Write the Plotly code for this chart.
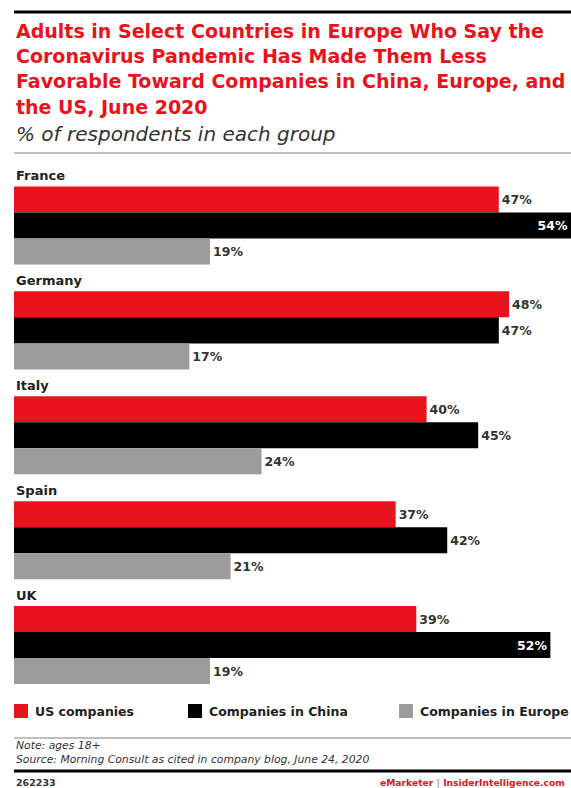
import plotly.graph_objects as go

countries = ["France", "Germany", "Italy", "Spain", "UK"]
series_names = ["US companies", "Companies in China", "Companies in Europe"]
us_companies = [47, 48, 40, 37, 39]
china_companies = [54, 47, 45, 42, 52]
europe_companies = [19, 17, 24, 21, 19]
series_values = [us_companies, china_companies, europe_companies]
colors = ["#e8131d", "#000000", "#9c9c9c"]

W, H = 571, 788
ML, MR, MT, MB = 14, 0, 170, 88
PW, PH = W - ML - MR, H - MT - MB
FONT = "DejaVu Sans"

def px(xp):
    return (xp - ML) / PW

def py(yp):
    return (H - MB - yp) / PH

fig = go.Figure()
pos = list(range(len(countries)))
xmax = 54

for name, vals, col in zip(series_names, series_values, colors):
    tp = ["inside" if v >= 50 else "outside" for v in vals]
    tc = ["#ffffff" if v >= 50 else "#333333" for v in vals]
    fig.add_trace(go.Bar(
        y=pos, x=vals, name=name, orientation="h",
        marker=dict(color=col, line=dict(width=0)),
        text=[f"{v}%" for v in vals], textposition=tp,
        insidetextanchor="end",
        textfont=dict(family=FONT, size=12.5, color=tc, weight="bold"),
        cliponaxis=False, showlegend=False, hoverinfo="skip",
    ))

fig.update_layout(
    width=W, height=H,
    margin=dict(l=ML, r=MR, t=MT, b=MB),
    paper_bgcolor="white", plot_bgcolor="white",
    barmode="group", bargap=0.256, bargroupgap=0,
    showlegend=False,
    xaxis=dict(range=[0, xmax], visible=False, fixedrange=True),
    yaxis=dict(range=[4.524, -0.529], visible=False, fixedrange=True),
    font=dict(family=FONT),
)

# Country labels
for i, c in enumerate(countries):
    fig.add_annotation(x=0, y=i - 0.472, xref="x", yref="y", text=c,
                       showarrow=False, xanchor="left", yanchor="middle",
                       font=dict(family=FONT, size=13, color="#222222", weight="bold"))

# Title
title_lines = ["Adults in Select Countries in Europe Who Say the",
               "Coronavirus Pandemic Has Made Them Less",
               "Favorable Toward Companies in China, Europe, and",
               "the US, June 2020"]
for k, line in enumerate(title_lines):
    fig.add_annotation(x=px(14), y=py(31 + 25.2 * k), xref="paper", yref="paper",
                       text=line, showarrow=False, xanchor="left", yanchor="middle",
                       font=dict(family=FONT, size=19, color="#e8131d", weight="bold"))
fig.add_annotation(x=px(14), y=py(134), xref="paper", yref="paper",
                   text="<i>% of respondents in each group</i>", showarrow=False,
                   xanchor="left", yanchor="middle",
                   font=dict(family=FONT, size=20, color="#333333"))

def hline(ypx, color, width):
    fig.add_shape(type="line", xref="paper", yref="paper",
                  x0=px(14), x1=px(W), y0=py(ypx), y1=py(ypx),
                  line=dict(color=color, width=width))

hline(12, "#000000", 3)
hline(153, "#aaaaaa", 1.5)
hline(738, "#aaaaaa", 1.5)
hline(771, "#000000", 3)

# Manual legend
leg_x = [14, 188, 399]
for xpx, name, col in zip(leg_x, series_names, colors):
    fig.add_shape(type="rect", xref="paper", yref="paper",
                  x0=px(xpx), x1=px(xpx + 14), y0=py(718), y1=py(704),
                  fillcolor=col, line=dict(width=0))
    fig.add_annotation(x=px(xpx + 19), y=py(711), xref="paper", yref="paper",
                       text=name, showarrow=False, xanchor="left", yanchor="middle",
                       font=dict(family=FONT, size=12.5, color="#222222", weight="bold"))

fig.add_annotation(x=px(14), y=py(752), xref="paper", yref="paper",
                   text="<i>Note: ages 18+<br>Source: Morning Consult as cited in company blog, June 24, 2020</i>",
                   showarrow=False, xanchor="left", yanchor="middle", align="left",
                   font=dict(family=FONT, size=10.8, color="#333333"))
fig.add_annotation(x=px(14), y=py(782), xref="paper", yref="paper",
                   text="<b>262233</b>", showarrow=False, xanchor="left", yanchor="middle",
                   font=dict(family=FONT, size=9.5, color="#333333"))
fig.add_annotation(x=px(567), y=py(782), xref="paper", yref="paper",
                   text="<b><span style='color:#e8131d'>eMarketer</span> <span style='color:#999999'>|</span> <span style='color:#e8131d'>InsiderIntelligence.com</span></b>",
                   showarrow=False, xanchor="right", yanchor="middle",
                   font=dict(family=FONT, size=9.2, color="#e8131d"))

fig.write_html("out.html")
